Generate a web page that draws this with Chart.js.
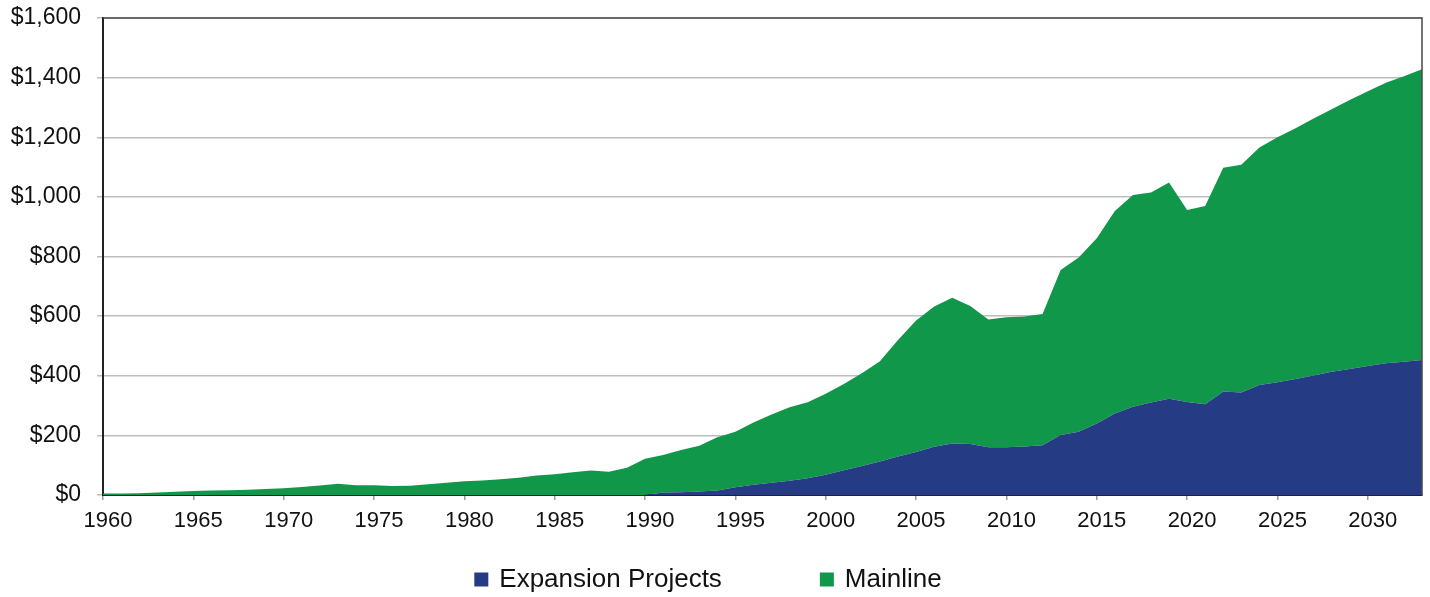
<!DOCTYPE html>
<html>
<head>
<meta charset="utf-8">
<script src="https://cdn.jsdelivr.net/npm/chart.js@4/dist/chart.umd.min.js"></script>
<style>
  html, body { margin: 0; padding: 0; background: #fff; }
  #wrap { width: 1430px; height: 597px; }
</style>
</head>
<body>
<div id="wrap"><canvas id="chart" width="1430" height="597"></canvas></div>
<script>
// Annual spend ($ millions), stacked: expansion projects under mainline
const years = [
  1960, 1961, 1962, 1963, 1964, 1965, 1966, 1967, 1968, 1969,
  1970, 1971, 1972, 1973, 1974, 1975, 1976, 1977, 1978, 1979,
  1980, 1981, 1982, 1983, 1984, 1985, 1986, 1987, 1988, 1989,
  1990, 1991, 1992, 1993, 1994, 1995, 1996, 1997, 1998, 1999,
  2000, 2001, 2002, 2003, 2004, 2005, 2006, 2007, 2008, 2009,
  2010, 2011, 2012, 2013, 2014, 2015, 2016, 2017, 2018, 2019,
  2020, 2021, 2022, 2023, 2024, 2025, 2026, 2027, 2028, 2029,
  2030, 2031, 2032, 2033,
];

const expansion = [
  0, 0, 0, 0, 0, 0, 0, 0, 0, 0,
  0, 0, 0, 0, 0, 0, 0, 0, 0, 0,
  0, 0, 0, 0, 0, 0, 0, 0, 0, 0,
  0, 8, 9, 12, 15, 26, 34, 41, 48, 56,
  68, 83, 97, 112, 129, 144, 162, 173, 171, 160,
  160, 163, 167, 201, 212, 240, 273, 296, 310, 323,
  312, 304, 347, 344, 369, 378, 389, 401, 413, 423,
  433, 442, 447, 453,
];

const mainline = [
  5, 5, 6, 8, 11, 13, 15, 16, 18, 20,
  23, 27, 32, 38, 33, 33, 30, 31, 36, 41,
  46, 49, 53, 58, 65, 70, 76, 82, 78, 91,
  122, 126, 142, 153, 179, 186, 209, 229, 246, 255,
  272, 289, 311, 337, 391, 441, 470, 489, 463, 429,
  436, 436, 440, 554, 585, 621, 680, 710, 705, 725,
  644, 665, 751, 764, 797, 822, 841, 862, 881, 902,
  921, 941, 958, 975,
];

const xTicks = [1960, 1965, 1970, 1975, 1980, 1985, 1990, 1995, 2000, 2005, 2010, 2015, 2020, 2025, 2030];
const yTicks = [0, 200, 400, 600, 800, 1000, 1200, 1400, 1600];

const BLUE = '#253b83';
const GREEN = '#11974a';
const TEXT = '#111';

Chart.defaults.font.family = '"Liberation Sans", Arial, sans-serif';
Chart.defaults.color = TEXT;

const toPoints = (vals) => years.map((yr, i) => ({ x: yr, y: vals[i] }));

// top and right edges of the plot frame
const frame = {
  id: 'frame',
  afterDatasetsDraw(chart) {
    const { ctx, chartArea: a } = chart;
    ctx.save();
    ctx.strokeStyle = '#4a4a4a';
    ctx.lineWidth = 1.5;
    ctx.beginPath();
    ctx.moveTo(a.left, a.top);
    ctx.lineTo(a.right, a.top);
    ctx.lineTo(a.right, a.bottom);
    ctx.stroke();
    ctx.restore();
  },
};

// legend row below the axis, wide gap between entries
const bottomLegend = {
  id: 'bottomLegend',
  afterDraw(chart) {
    const { ctx } = chart;
    const box = 14, gap = 11, spacing = 98;
    ctx.save();
    ctx.font = '26px "Liberation Sans", Arial, sans-serif';
    const items = chart.data.datasets.map(ds => ({
      text: ds.label,
      color: ds.backgroundColor,
      w: box + gap + ctx.measureText(ds.label).width,
    }));
    const total = items.reduce((s, it) => s + it.w, 0) + spacing * (items.length - 1);
    let x = chart.width / 2 - 7 - total / 2;
    const baseline = 587;
    for (const it of items) {
      ctx.fillStyle = it.color;
      ctx.fillRect(x, baseline - 14.5, box, box);
      ctx.fillStyle = TEXT;
      ctx.textBaseline = 'alphabetic';
      ctx.textAlign = 'left';
      ctx.fillText(it.text, x + box + gap, baseline);
      x += it.w + spacing;
    }
    ctx.restore();
  },
};

new Chart(document.getElementById('chart'), {
  type: 'line',
  data: {
    datasets: [
      {
        label: 'Expansion Projects',
        data: toPoints(expansion),
        backgroundColor: BLUE,
        borderColor: BLUE,
        borderWidth: 0,
        pointRadius: 0,
        fill: 'origin',
        tension: 0,
      },
      {
        label: 'Mainline',
        data: toPoints(mainline),
        backgroundColor: GREEN,
        borderColor: GREEN,
        borderWidth: 0,
        pointRadius: 0,
        fill: '-1',
        tension: 0,
      },
    ],
  },
  options: {
    responsive: false,
    animation: false,
    layout: { padding: { top: 18, right: 8, bottom: 57, left: 0 } },
    plugins: {
      legend: { display: false },
      tooltip: { enabled: false },
    },
    scales: {
      x: {
        type: 'linear',
        min: 1960,
        max: 2033,
        afterBuildTicks: (s) => { s.ticks = xTicks.map(v => ({ value: v })); },
        afterFit: (s) => { s.height = 45; },
        ticks: {
          callback: (v) => String(v),
          font: { size: 22 },
          color: TEXT,
          padding: 8,
          labelOffset: 5,
          maxRotation: 0,
          autoSkip: false,
        },
        grid: { drawOnChartArea: false, tickLength: 5, color: '#9a9a9a', lineWidth: 1.5 },
        border: { color: '#222', width: 2 },
      },
      y: {
        stacked: true,
        min: 0,
        max: 1600,
        afterBuildTicks: (s) => { s.ticks = yTicks.map(v => ({ value: v })); },
        afterFit: (s) => {
          s.width = 103;
          // tick padding would otherwise push the plot top down
          s.paddingTop = 0;
          s.paddingBottom = 0;
        },
        ticks: {
          callback: (v) => '$' + v.toLocaleString('en-US'),
          font: { size: 23 },
          color: TEXT,
          padding: 16,
        },
        grid: { color: '#bdbdbd', lineWidth: 1.5, tickLength: 6 },
        border: { color: '#222', width: 2 },
      },
    },
  },
  plugins: [frame, bottomLegend],
});
</script>
</body>
</html>
